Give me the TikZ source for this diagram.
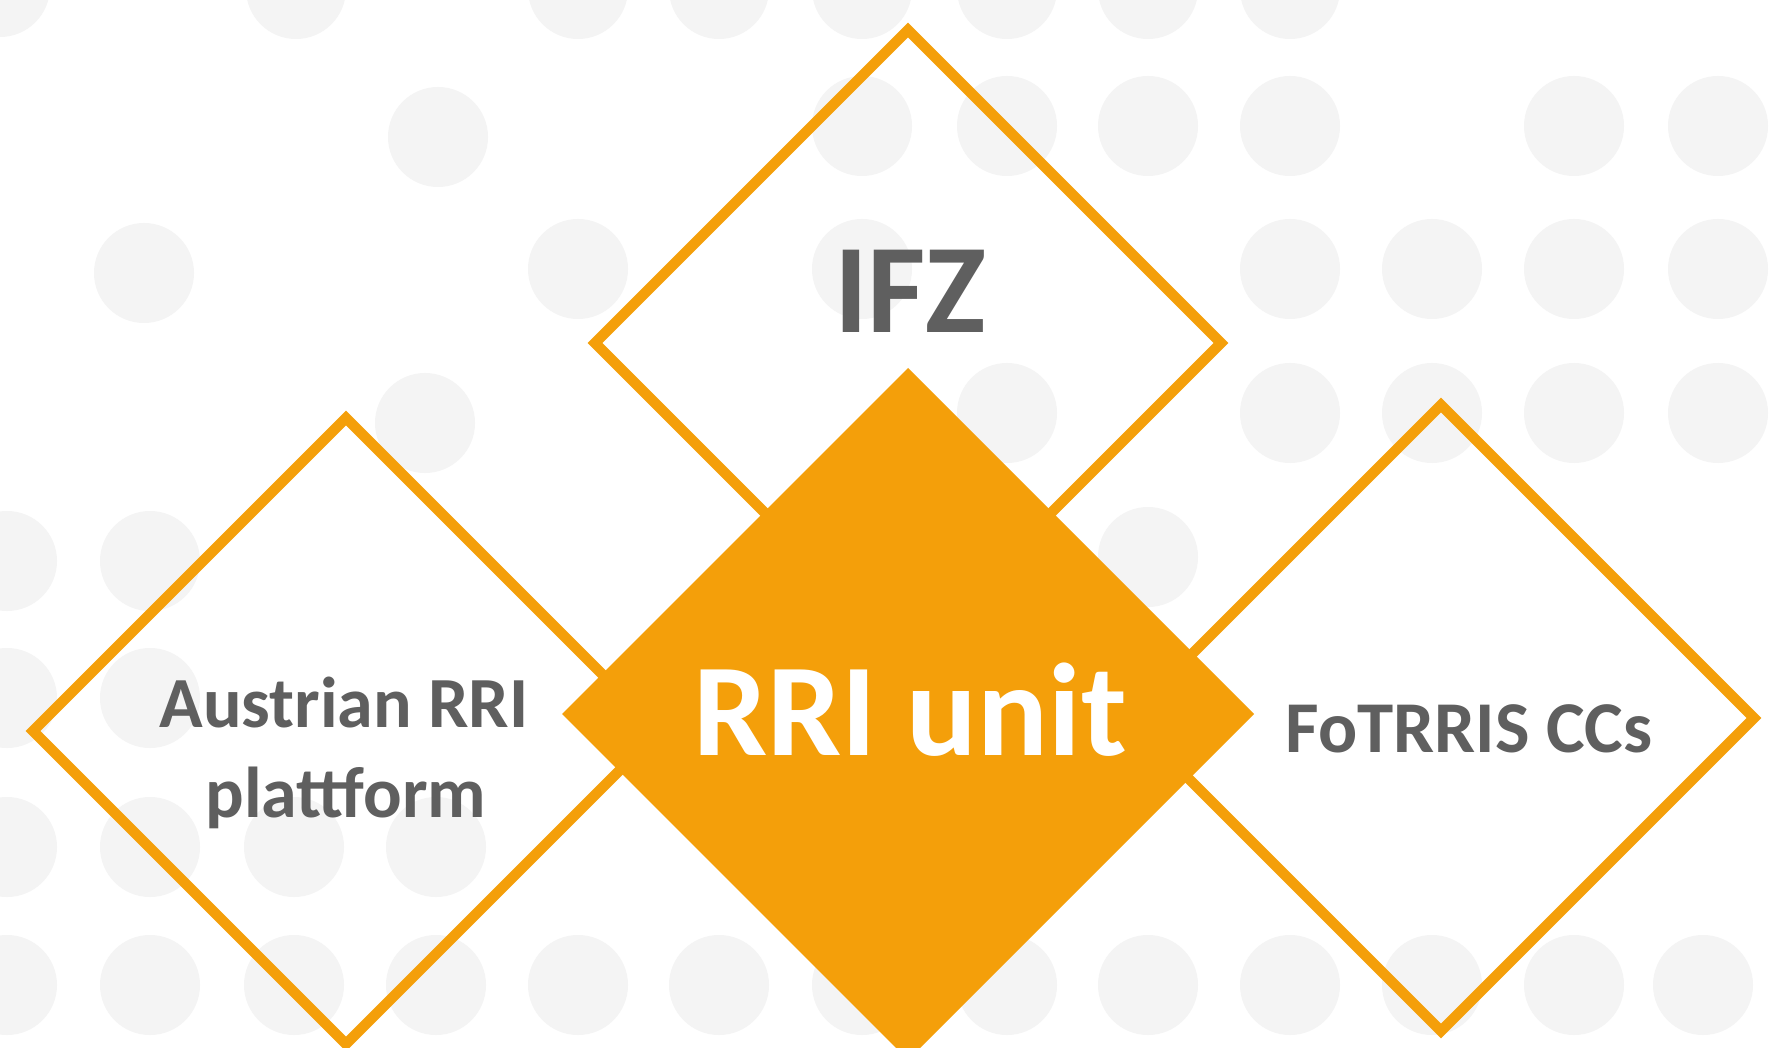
\documentclass[tikz,border=0pt]{standalone}
\usepackage{fontspec}
\setmainfont{Carlito}
\definecolor{rriorange}{HTML}{F49F0A}
\definecolor{dotgray}{HTML}{F4F4F4}
\definecolor{txtgray}{HTML}{5F5F5F}
\begin{document}
\begin{tikzpicture}[x=1pt,y=-1pt,
  dot/.style={fill=dotgray},
  outl/.style={draw=rriorange, line width=10.5pt, line join=miter},
  lbl/.style={inner sep=0pt, anchor=base, text=txtgray}]
\useasboundingbox (0,0) rectangle (1778,1048);
\fill[white] (0,0) rectangle (1778,1048);
\begin{scope}
\clip (0,0) rectangle (1778,1048);
% background dots
\foreach \x/\y in {0/-13, 296/-11, 578/-11, 719/-11, 862/-11, 1007/-11, 1148/-11, 1290/-11,
  438/137,
  862/126, 1007/126, 1148/126, 1290/126, 1574/126, 1718/126,
  144/273,
  578/269, 862/269, 1290/269, 1432/269, 1574/269, 1718/269,
  425/423,
  1007/413, 1290/413, 1432/413, 1574/413, 1718/413,
  1148/557,
  7/561, 150/561,
  7/698, 150/698,
  7/847, 150/847, 294/847, 436/847,
  7/985, 150/985, 294/985, 436/985, 578/985, 719/985, 862/985, 1007/985, 1148/985, 1290/985, 1432/985, 1574/985, 1703/985}
  \fill[dot] (\x,\y) circle[radius=50];
% outline diamonds
\draw[outl, shift={(908,343)}] (0,-313) -- (313,0) -- (0,313) -- (-313,0) -- cycle;
\draw[outl, shift={(346,731)}] (0,-313) -- (313,0) -- (0,313) -- (-313,0) -- cycle;
\draw[outl, shift={(1441,718)}] (0,-313) -- (313,0) -- (0,313) -- (-313,0) -- cycle;
% central filled diamond, on top of the outlines
\fill[rriorange, shift={(908,714)}] (0,-346) -- (346,0) -- (0,346) -- (-346,0) -- cycle;
\end{scope}
% labels
\node[lbl, font=\bfseries\fontsize{127}{150}\selectfont] (ifz) at (910,333) {IFZ};
\node[lbl, text=white, font=\bfseries\fontsize{132}{158}\selectfont] (rri) at (910,755) {RRI unit};
\node[lbl, font=\bfseries\fontsize{72}{88}\selectfont] (aus1) at (344,727) {Austrian RRI};
\node[lbl, font=\bfseries\fontsize{72}{88}\selectfont] (aus2) at (346,817) {plattform};
\node[lbl, font=\bfseries\fontsize{73}{88}\selectfont] (fot) at (1469,752) {FoTRRIS CCs};
\end{tikzpicture}
\end{document}
